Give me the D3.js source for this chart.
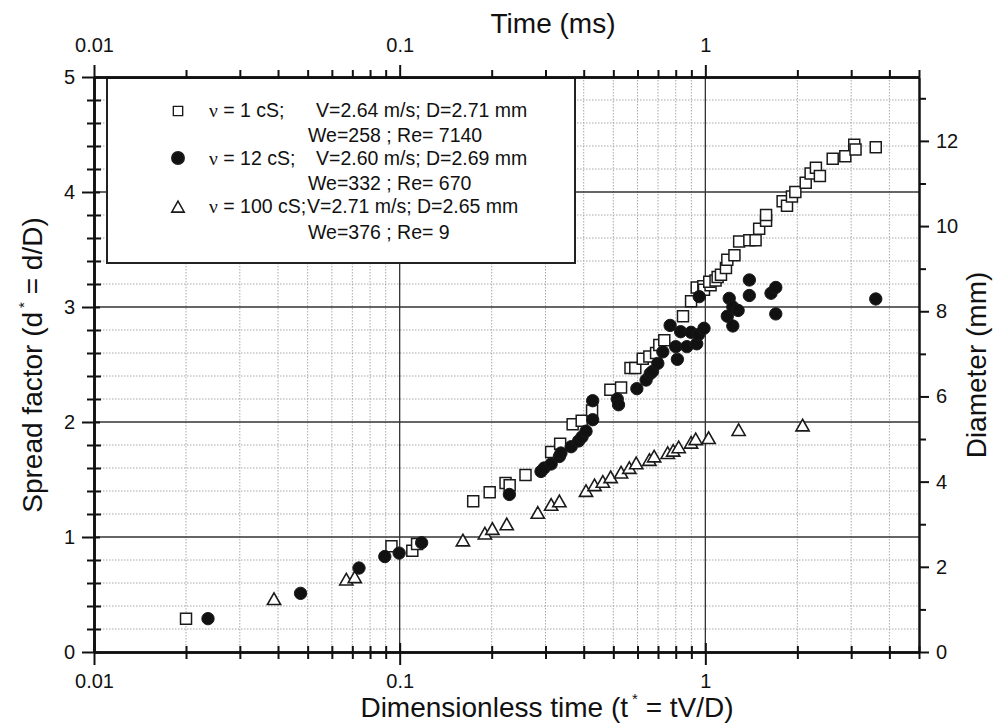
<!DOCTYPE html>
<html>
<head>
<meta charset="utf-8">
<script src="https://cdn.jsdelivr.net/npm/d3@7"></script>
<style>
body { margin: 0; background: #fff; }
text { font-family: "Liberation Sans", Arial, sans-serif; fill: #111; }
</style>
</head>
<body>
<script>

// spread factor d* against dimensionless time t*, one list per viscosity
var nu1cS = [
    [0.020,0.29],[0.094,0.92],[0.110,0.88],[0.114,0.94],[0.174,1.31],[0.197,1.39],
    [0.222,1.47],[0.229,1.45],[0.258,1.54],[0.313,1.74],[0.335,1.81],[0.368,1.98],
    [0.394,2.01],[0.426,2.10],[0.489,2.28],[0.530,2.30],[0.569,2.47],[0.590,2.47],
    [0.624,2.55],[0.656,2.57],[0.690,2.60],[0.707,2.67],[0.734,2.71],[0.845,2.92],
    [0.898,3.05],[0.937,3.17],[0.985,3.18],[0.990,3.15],[1.040,3.19],[1.030,3.22],
    [1.080,3.23],[1.097,3.26],[1.125,3.28],[1.168,3.34],[1.180,3.41],[1.245,3.45],
    [1.290,3.57],[1.393,3.58],[1.460,3.58],[1.500,3.68],[1.580,3.75],[1.580,3.80],
    [1.790,3.92],[1.850,3.88],[1.920,3.96],[1.970,4.00],[2.130,4.08],[2.210,4.16],
    [2.300,4.21],[2.370,4.14],[2.610,4.29],[2.870,4.31],[3.070,4.41],[3.100,4.37],
    [3.610,4.39]
];
var nu12cS = [
    [0.0236,0.29],[0.0474,0.51],[0.0736,0.73],[0.0894,0.83],[0.0996,0.86],[0.118,0.95],
    [0.2285,1.37],[0.290,1.57],[0.297,1.60],[0.313,1.635],[0.333,1.70],[0.337,1.73],
    [0.364,1.785],[0.385,1.835],[0.395,1.87],[0.407,1.92],[0.428,2.02],[0.428,2.185],
    [0.515,2.20],[0.520,2.15],[0.597,2.29],[0.640,2.365],[0.660,2.42],[0.672,2.44],
    [0.699,2.51],[0.726,2.61],[0.767,2.84],[0.800,2.655],[0.810,2.545],[0.830,2.785],
    [0.870,2.655],[0.898,2.78],[0.937,2.68],[0.950,2.76],[0.990,2.815],[0.955,3.09],
    [1.180,2.92],[1.197,3.075],[1.230,3.00],[1.230,2.835],[1.280,2.97],[1.393,3.235],
    [1.393,3.10],[1.640,3.12],[1.700,3.17],[1.700,2.94],[3.610,3.07]
];
var nu100cS = [
    [0.0388,0.46],[0.0669,0.63],[0.0713,0.65],[0.161,0.97],[0.190,1.03],[0.201,1.07],
    [0.224,1.11],[0.283,1.21],[0.313,1.28],[0.333,1.31],[0.407,1.40],[0.434,1.45],
    [0.462,1.48],[0.490,1.52],[0.530,1.56],[0.564,1.60],[0.594,1.64],[0.656,1.67],
    [0.680,1.70],[0.753,1.73],[0.785,1.75],[0.818,1.78],[0.898,1.82],[0.930,1.85],
    [1.025,1.86],[1.285,1.93],[2.080,1.97]
];

// tick values
var xMajor = [0.01, 0.1, 1];
var yMajor = [0, 1, 2, 3, 4, 5];
var diaMajor = [0, 2, 4, 6, 8, 10, 12];
var diaMinor = [1, 3, 5, 7, 9, 11, 13];

// legend texts
var legNu = ["ν = 1 cS;", "ν = 12 cS;", "ν = 100 cS;"];
var legVD = ["V=2.64 m/s; D=2.71 mm", "V=2.60 m/s; D=2.69 mm", "V=2.71 m/s; D=2.65 mm"];
var legWeRe = ["We=258 ; Re= 7140", "We=332 ; Re= 670", "We=376 ; Re= 9"];

var W = 996, H = 723;
var svg = d3.select("body").append("svg")
    .attr("width", W)
    .attr("height", H);

var x = d3.scaleLog().domain([0.01, 5]).range([94, 919]),
    y = d3.scaleLinear().domain([0, 5]).range([652, 77]),
    yDia = d3.scaleLinear().domain([0, 13.5]).range([652, 77]);

// minor tick positions
var xMinor = [];
xMajor.forEach(function(dec) {
    for (var k = 2; k <= 9; k++) if (dec * k <= 5.0001) xMinor.push(dec * k);
});
var yMinor = d3.range(1, 25).map(function(i) { return i * 0.2; })
    .filter(function(v) { return Math.abs(v - Math.round(v)) > 0.01; });

// grid
var grid = svg.append("g");
grid.selectAll(".gvx").data(xMinor.filter(function(v) { return v < 4.99; }))
    .enter().append("line")
    .attr("x1", function(d) { return x(d); }).attr("x2", function(d) { return x(d); })
    .attr("y1", 77).attr("y2", 652)
    .attr("stroke", "#a8a8a8").attr("stroke-width", 1).attr("stroke-dasharray", "1.5,1.5");
grid.selectAll(".gvy").data(yMinor)
    .enter().append("line")
    .attr("x1", 94).attr("x2", 919)
    .attr("y1", function(d) { return y(d); }).attr("y2", function(d) { return y(d); })
    .attr("stroke", "#a8a8a8").attr("stroke-width", 1).attr("stroke-dasharray", "1.5,1.5");
grid.selectAll(".gmx").data([0.1, 1])
    .enter().append("line")
    .attr("x1", function(d) { return x(d); }).attr("x2", function(d) { return x(d); })
    .attr("y1", 77).attr("y2", 652)
    .attr("stroke", "#333").attr("stroke-width", 1.3);
grid.selectAll(".gmy").data([1, 2, 3, 4])
    .enter().append("line")
    .attr("x1", 94).attr("x2", 919)
    .attr("y1", function(d) { return y(d); }).attr("y2", function(d) { return y(d); })
    .attr("stroke", "#333").attr("stroke-width", 1.3);

// legend box (drawn before data, covers the grid)
svg.append("rect")
    .attr("x", 107).attr("y", 78)
    .attr("width", 468).attr("height", 185)
    .attr("fill", "#fff")
    .attr("stroke", "#222")
    .attr("stroke-width", 2);

// markers
var sq = d3.symbol().type(d3.symbolSquare).size(121)(),
    circ = d3.symbol().type(d3.symbolCircle).size(120)(),
    tri = "M0,-6.2L6.6,5.4L-6.6,5.4Z";

function drawSeries(data, path, fill, sw) {
    svg.append("g").selectAll("path").data(data)
        .enter().append("path")
        .attr("d", path)
        .attr("transform", function(d) { return "translate(" + x(d[0]) + "," + y(d[1]) + ")"; })
        .attr("fill", fill)
        .attr("stroke", "#1a1a1a")
        .attr("stroke-width", sw);
}
drawSeries(nu1cS, sq, "#fff", 1.5);
drawSeries(nu100cS, tri, "#fff", 1.6);
drawSeries(nu12cS, circ, "#111", 1);

// axes
function styleAxis(g, w) {
    g.select(".domain").attr("stroke", "#111").attr("stroke-width", w);
    g.selectAll(".tick line").attr("stroke", "#111").attr("stroke-width", 2);
    g.selectAll("text").style("font-size", "20px")
        .style("font-family", "'Liberation Sans', Arial, sans-serif").attr("fill", "#111");
}

// bottom
var gb = svg.append("g").attr("transform", "translate(0,652)")
    .call(d3.axisBottom(x).tickValues(xMinor).tickSize(7).tickSizeOuter(0).tickFormat(""));
gb.selectAll(".tick line").attr("y1", -6);
styleAxis(gb, 2.6);
var gb2 = svg.append("g").attr("transform", "translate(0,652)")
    .call(d3.axisBottom(x).tickValues(xMajor).tickSize(13).tickSizeOuter(0).tickPadding(9)
        .tickFormat(function(d) { return String(d); }));
gb2.selectAll(".tick line").attr("y1", -9);
styleAxis(gb2, 2.6);

// top (time in ms)
var gt = svg.append("g").attr("transform", "translate(0,77)")
    .call(d3.axisTop(x).tickValues(xMinor).tickSize(7).tickSizeOuter(0).tickFormat(""));
styleAxis(gt, 2.6);
var gt2 = svg.append("g").attr("transform", "translate(0,77)")
    .call(d3.axisTop(x).tickValues(xMajor).tickSize(12).tickSizeOuter(0).tickPadding(13)
        .tickFormat(function(d) { return String(d); }));
styleAxis(gt2, 2.6);

// left
var gl = svg.append("g").attr("transform", "translate(94,0)")
    .call(d3.axisLeft(y).tickValues(yMinor).tickSize(7).tickSizeOuter(0).tickFormat(""));
gl.selectAll(".tick line").attr("x1", 7);
styleAxis(gl, 2.6);
var gl2 = svg.append("g").attr("transform", "translate(94,0)")
    .call(d3.axisLeft(y).tickValues(yMajor).tickSize(12).tickSizeOuter(0).tickPadding(7)
        .tickFormat(d3.format("d")));
gl2.selectAll(".tick line").attr("x1", 6);
styleAxis(gl2, 2.6);

// right (diameter in mm)
var gr = svg.append("g").attr("transform", "translate(919,0)")
    .call(d3.axisRight(yDia).tickValues(diaMinor).tickSize(7).tickSizeOuter(0).tickFormat(""));
styleAxis(gr, 2);
var gr2 = svg.append("g").attr("transform", "translate(919,0)")
    .call(d3.axisRight(yDia).tickValues(diaMajor).tickSize(10).tickSizeOuter(0).tickPadding(7)
        .tickFormat(d3.format("d")));
styleAxis(gr2, 2);

// axis titles
var bt = svg.append("text")
    .attr("x", 547).attr("y", 717)
    .style("text-anchor", "middle")
    .style("font-size", "28px")
    .text("Dimensionless time (t");
bt.append("tspan").attr("dx", 4).attr("dy", -13).style("font-size", "15px").text("*");
bt.append("tspan").attr("dy", 13).text(" = tV/D)");

svg.append("text")
    .attr("x", 553).attr("y", 33)
    .style("text-anchor", "middle")
    .style("font-size", "28px")
    .text("Time (ms)");

var lt = svg.append("text")
    .attr("transform", "translate(42,365) rotate(-90)")
    .style("text-anchor", "middle")
    .style("font-size", "28px")
    .text("Spread factor (d");
lt.append("tspan").attr("dx", 4).attr("dy", -13).style("font-size", "15px").text("*");
lt.append("tspan").attr("dy", 13).text(" = d/D)");

svg.append("text")
    .attr("transform", "translate(986,365) rotate(-90)")
    .style("text-anchor", "middle")
    .style("font-size", "28px")
    .text("Diameter (mm)");

// legend content
var legSym = [sq, circ, tri],
    legFill = ["#fff", "#111", "#fff"],
    legSize = [0.85, 1, 0.95],
    legY = [111, 158, 207],
    legBase = [[117, 141.5], [165, 190], [213, 238.5]],
    legVx = [316, 316, 307];

legNu.forEach(function(s, i) {
    svg.append("path")
        .attr("d", legSym[i])
        .attr("transform", "translate(178," + legY[i] + ") scale(" + legSize[i] + ")")
        .attr("fill", legFill[i])
        .attr("stroke", "#1a1a1a")
        .attr("stroke-width", 1.6);
    var t = svg.append("text")
        .attr("x", 209).attr("y", legBase[i][0])
        .style("font-size", "19.5px");
    t.append("tspan").style("font-family", "'Liberation Serif', serif").text(s.charAt(0));
    t.append("tspan").text(s.slice(1));
    svg.append("text")
        .attr("x", legVx[i]).attr("y", legBase[i][0])
        .style("font-size", "19.5px")
        .text(legVD[i]);
    svg.append("text")
        .attr("x", 308).attr("y", legBase[i][1])
        .style("font-size", "19.5px")
        .text(legWeRe[i]);
});

</script>
</body>
</html>
